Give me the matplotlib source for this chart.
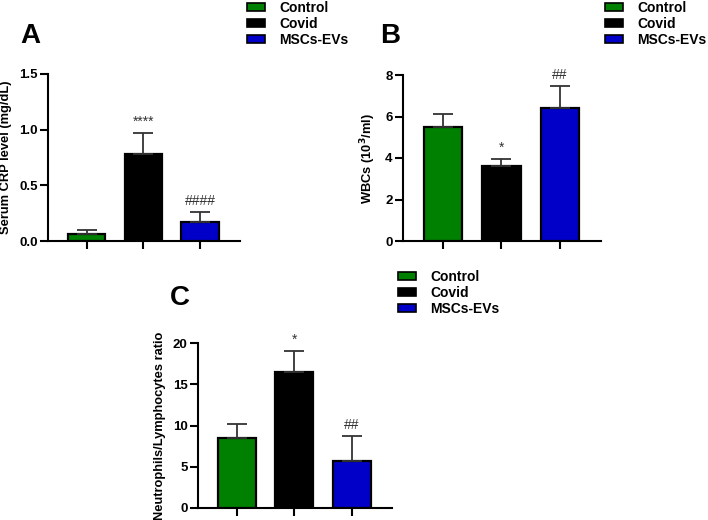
import matplotlib
matplotlib.use("Agg")
import matplotlib.pyplot as plt
from matplotlib.patches import Patch

plt.rcParams['font.family'] = ['Liberation Sans', 'DejaVu Sans']
plt.rcParams['font.weight'] = 'bold'

groups = ["Control", "Covid", "MSCs-EVs"]
colors = ["#008000", "#000000", "#0000c8"]

crp_mean = [0.06, 0.78, 0.17]
crp_err = [0.035, 0.19, 0.09]
crp_marks = ["", "****", "####"]

wbc_mean = [5.5, 3.6, 6.4]
wbc_err = [0.6, 0.35, 1.05]
wbc_marks = ["", "*", "##"]

nlr_mean = [8.5, 16.5, 5.7]
nlr_err = [1.7, 2.5, 3.0]
nlr_marks = ["", "*", "##"]

W, H = 708, 520
fig = plt.figure(figsize=(W / 100, H / 100), dpi=100)


def px_axes(left, right, top, bottom):
    return fig.add_axes([left / W, 1 - bottom / H, (right - left) / W, (bottom - top) / H])


def panel(ax, mean, err, marks, ymax, yticks, ticklabels, ylabel, letter, letter_xy, leg_xy):
    x = range(len(mean))
    ax.bar(x, mean, width=0.66, color=colors, edgecolor="black", linewidth=1.6,
           yerr=[[0] * len(err), err], capsize=7,
           error_kw=dict(elinewidth=1.3, capthick=1.3, ecolor="#333333"), zorder=3)
    for i, (m, e, s) in enumerate(zip(mean, err, marks)):
        if s:
            ax.annotate(s, (i, m + e), xytext=(0, 3), textcoords="offset points",
                        ha="center", va="bottom", fontsize=10, fontweight="normal",
                        color="#333333", annotation_clip=False)
    ax.set_xlim(-0.68, 2.7)
    ax.set_ylim(0, ymax)
    ax.set_yticks(yticks)
    ax.set_yticklabels(ticklabels, fontsize=9.5, fontweight="bold")
    ax.set_xticks(list(x))
    ax.set_xticklabels([])
    for sp in ["top", "right"]:
        ax.spines[sp].set_visible(False)
    for sp in ["left", "bottom"]:
        ax.spines[sp].set_linewidth(1.5)
    ax.tick_params(axis="both", width=1.5, length=6, direction="out", pad=1.5)
    ax.set_ylabel(ylabel, fontsize=9.3, fontweight="bold", labelpad=5)
    fig.text(letter_xy[0] / W, 1 - letter_xy[1] / H, letter, fontsize=20,
             fontweight="bold", ha="left", va="center")
    handles = [Patch(facecolor=c, edgecolor="black", linewidth=1.2) for c in colors]
    fig.legend(handles, groups, loc="upper left",
               bbox_to_anchor=(leg_xy[0] / W, 1 - leg_xy[1] / H),
               frameon=False, fontsize=10, handlelength=1.3, handleheight=0.55,
               handletextpad=1.0, labelspacing=0.15, borderpad=0, borderaxespad=0)


axA = px_axes(48, 240, 74, 241)
panel(axA, crp_mean, crp_err, crp_marks, 1.5, [0, 0.5, 1.0, 1.5],
      ["0.0", "0.5", "1.0", "1.5"], "Serum CRP level (mg/dL)", "A", (20, 36), (247, 1))

axB = px_axes(403, 601, 75, 241)
panel(axB, wbc_mean, wbc_err, wbc_marks, 8, [0, 2, 4, 6, 8],
      ["0", "2", "4", "6", "8"], "WBCs (10$^3$/ml)", "B", (380, 36), (605, 1))

axC = px_axes(198, 392, 343, 508)
panel(axC, nlr_mean, nlr_err, nlr_marks, 20, [0, 5, 10, 15, 20],
      ["0", "5", "10", "15", "20"], "Neutrophils/Lymphocytes ratio", "C", (170, 298), (398, 270))

fig.savefig("out.png", dpi=100)
